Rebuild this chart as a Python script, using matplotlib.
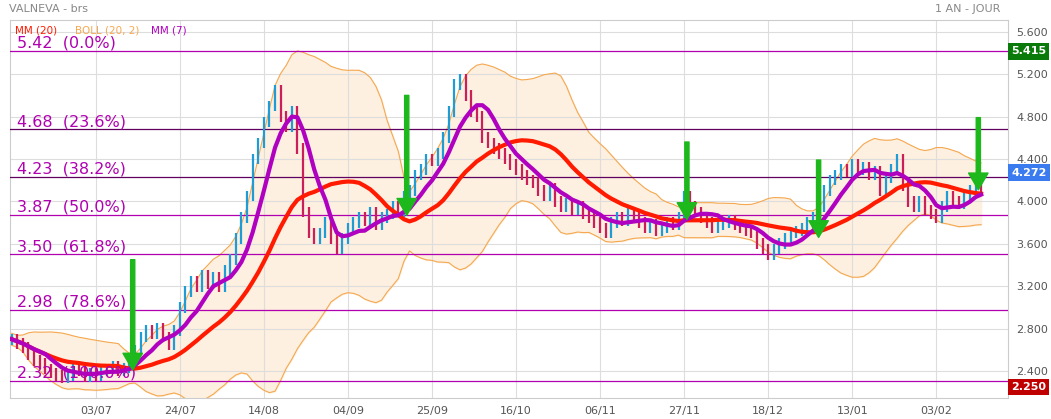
import matplotlib.pyplot as plt
import numpy as np
import pandas as pd

closes = [
    2.70, 2.66, 2.62, 2.55, 2.50, 2.47, 2.42, 2.38, 2.36, 2.34,
    2.36, 2.42, 2.40, 2.35, 2.38, 2.36, 2.40, 2.42, 2.44, 2.40,
    2.43, 2.48, 2.60, 2.72, 2.78, 2.75, 2.80, 2.72, 2.65, 2.78,
    3.00, 3.15, 3.25, 3.20, 3.30, 3.22, 3.28, 3.20, 3.35, 3.45,
    3.65, 3.85, 4.05, 4.40, 4.55, 4.75, 4.90, 5.05, 4.80, 4.70,
    4.85, 4.50, 3.90, 3.70, 3.65, 3.70, 3.80, 3.65, 3.55, 3.65,
    3.75, 3.80, 3.85, 3.82, 3.90, 3.78, 3.85, 3.88, 3.95, 3.90,
    4.05, 4.10, 4.25, 4.30, 4.40, 4.38, 4.45, 4.60, 4.85, 5.10,
    5.15, 5.00, 4.85, 4.80, 4.60, 4.55, 4.50, 4.45, 4.40, 4.35,
    4.30, 4.25, 4.20, 4.18, 4.10, 4.05, 4.12, 4.00, 3.95, 3.98,
    3.92, 3.95, 3.88, 3.85, 3.80, 3.75, 3.70, 3.80, 3.85, 3.82,
    3.90, 3.85, 3.80, 3.75, 3.78, 3.72, 3.75, 3.80, 3.78, 3.85,
    4.05, 3.95, 3.90, 3.85, 3.80, 3.75, 3.78, 3.80, 3.82, 3.78,
    3.75, 3.72, 3.70, 3.60, 3.55, 3.50, 3.55, 3.60, 3.65, 3.70,
    3.72, 3.75, 3.80, 3.85, 3.95, 4.10, 4.20, 4.25, 4.30, 4.28,
    4.35, 4.30, 4.32, 4.25, 4.28, 4.10, 4.22, 4.30, 4.40, 4.15,
    4.00, 3.95, 4.00, 3.92, 3.88, 3.85, 3.95, 4.05, 4.00, 3.98,
    4.05, 4.10, 4.15, 4.12,
]

tick_idx = [15, 30, 45, 60, 75, 90, 105, 120, 135, 150, 165]
tick_labels = ["03/07", "24/07", "14/08", "04/09", "25/09", "16/10",
               "06/11", "27/11", "18/12", "13/01", "03/02"]

fib_levels = [5.42, 4.68, 4.23, 3.87, 3.50, 2.98, 2.31]
fib_labels = ["5.42  (0.0%)", "4.68  (23.6%)", "4.23  (38.2%)", "3.87  (50.0%)",
              "3.50  (61.8%)", "2.98  (78.6%)", "2.32  (100.0%)"]

# signal arrows: (index, top price, tip price)
arrows = [(21.6, 3.45, 2.41), (70.5, 5.00, 3.87), (120.5, 4.56, 3.83),
          (144.0, 4.39, 3.66), (172.5, 4.79, 4.11)]

price_boxes = [(5.415, "5.415", "#0a7a0a"), (4.272, "4.272", "#3a7bf0"),
               (2.250, "2.250", "#c00000")]

s = pd.Series(closes)
x = np.arange(len(s))
mm20 = s.rolling(20, min_periods=1).mean()
sd = s.rolling(20, min_periods=2).std().bfill()
upper = mm20 + 2 * sd
lower = mm20 - 2 * sd
mm7 = s.rolling(7, min_periods=1).mean()

fig = plt.figure(figsize=(10.51, 4.19), dpi=100)
ax = fig.add_axes([0.0095, 0.05, 0.9496, 0.902])
ax.set_xlim(-0.3, 177.8)
ax.set_ylim(2.145, 5.71)

ax.set_xticks(tick_idx)
ax.set_xticklabels(tick_labels, color="#555555", fontsize=8)
yt = np.arange(2.4, 5.61, 0.4)
ax.set_yticks(yt)
ax.set_yticklabels([f"{v:.3f}" for v in yt], color="#555555", fontsize=8)
ax.yaxis.tick_right()
ax.tick_params(length=0, pad=6)
ax.grid(True, color="#dddddd", linewidth=0.8)
for sp in ax.spines.values():
    sp.set_color("#cccccc")

ax.fill_between(x, lower, upper, color="#fdf0e0", zorder=1)
ax.plot(x, upper, color="#f5a850", lw=0.8, zorder=2)
ax.plot(x, lower, color="#f5a850", lw=0.8, zorder=2)

for lv, lb in zip(fib_levels, fib_labels):
    c = "#600060" if lv in (4.68, 4.23) else "#b000b0"
    ax.axhline(lv, color=c, lw=0.9, zorder=3)
    ax.text(1, lv + 0.03, lb, color="#b000b0", fontsize=11.5, zorder=6)

opens = s.shift(1).fillna(s.iloc[0])
for i in range(len(s)):
    o, c = opens[i], s[i]
    col = "#1f9bd6" if c >= o else "#cc1f5a"
    ax.vlines(i, min(o, c) - 0.05, max(o, c) + 0.05, color=col, lw=1.6, zorder=4)

ax.plot(x, mm20, color="#ff1a00", lw=3, zorder=5)
ax.plot(x, mm7, color="#b000c0", lw=3, zorder=5)

for xi, top, tip in arrows:
    ax.annotate("", xy=(xi, tip), xytext=(xi, top), zorder=7,
                arrowprops=dict(facecolor="#1cb81c", edgecolor="#1cb81c",
                                width=3, headwidth=14, headlength=12))

for v, t, c in price_boxes:
    ax.text(1.003, v, t, transform=ax.get_yaxis_transform(), color="white",
            fontsize=8, fontweight="bold", va="center", ha="left",
            bbox=dict(facecolor=c, edgecolor="none", boxstyle="square,pad=0.3"))

ax.text(0.005, 0.985, "MM (20)", transform=ax.transAxes, color="#ff1a00", fontsize=7.5, va="top")
ax.text(0.065, 0.985, "BOLL (20, 2)", transform=ax.transAxes, color="#f5a850", fontsize=7.5, va="top")
ax.text(0.141, 0.985, "MM (7)", transform=ax.transAxes, color="#b000c0", fontsize=7.5, va="top")
fig.text(0.009, 0.99, "VALNEVA - brs", color="#888888", fontsize=8, va="top")
fig.text(0.952, 0.99, "1 AN - JOUR", color="#888888", fontsize=8, va="top", ha="right")

fig.savefig("out.png", dpi=100)
